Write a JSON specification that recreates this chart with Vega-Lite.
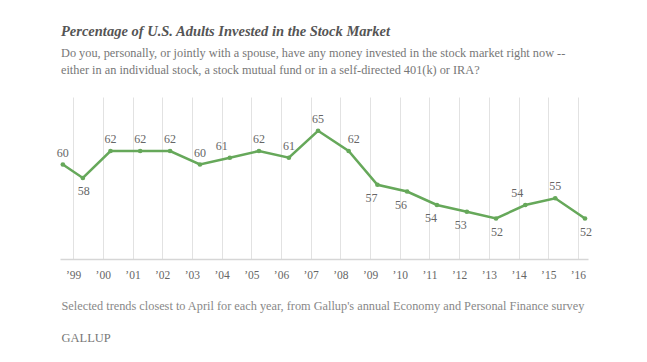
{
  "$schema": "https://vega.github.io/schema/vega-lite/v6.json",
  "width": 528,
  "height": 162,
  "autosize": {"type": "none"},
  "padding": {"left": 60, "top": 97, "right": 59, "bottom": 103},
  "background": "white",
  "view": {"stroke": null},
  "title": {
    "text": "Percentage of U.S. Adults Invested in the Stock Market",
    "subtitle": [
      "Do you, personally, or jointly with a spouse, have any money invested in the stock market right now --",
      "either in an individual stock, a stock mutual fund or in a self-directed 401(k) or IRA?"
    ],
    "anchor": "start",
    "frame": "group",
    "offset": 20,
    "dx": 1,
    "font": "Liberation Serif",
    "fontSize": 14.5,
    "fontStyle": "italic",
    "fontWeight": "bold",
    "color": "#555555",
    "subtitleFont": "Liberation Serif",
    "subtitleFontSize": 12.3,
    "subtitleColor": "#777777",
    "subtitleLineHeight": 17,
    "subtitlePadding": 7
  },
  "data": {
    "values": [
      {"date": "1998-08-28", "pct": 60},
      {"date": "1999-05-01", "pct": 58},
      {"date": "2000-04-05", "pct": 62},
      {"date": "2001-04-05", "pct": 62},
      {"date": "2002-04-08", "pct": 62},
      {"date": "2003-04-10", "pct": 60},
      {"date": "2004-04-12", "pct": 61},
      {"date": "2005-04-05", "pct": 62},
      {"date": "2006-04-08", "pct": 61},
      {"date": "2007-04-02", "pct": 65},
      {"date": "2008-04-12", "pct": 62},
      {"date": "2009-04-01", "pct": 57},
      {"date": "2010-04-01", "pct": 56},
      {"date": "2011-04-03", "pct": 54},
      {"date": "2012-04-05", "pct": 53},
      {"date": "2013-03-30", "pct": 52},
      {"date": "2014-03-25", "pct": 54},
      {"date": "2015-03-28", "pct": 55},
      {"date": "2016-03-28", "pct": 52}
    ]
  },
  "encoding": {
    "x": {
      "field": "date",
      "type": "temporal",
      "scale": {
        "type": "utc",
        "domain": [
          {"year": 1998, "month": 7, "date": 24, "utc": true},
          {"year": 2016, "month": 5, "date": 4, "utc": true}
        ]
      },
      "axis": {
        "tickCount": {"interval": "year", "step": 1},
        "labelExpr": "'\u2019' + utcFormat(datum.value, '%y')",
        "grid": true,
        "gridColor": "#e2e2e2",
        "gridWidth": 1,
        "ticks": false,
        "domainColor": "#d6d6d6",
        "domainWidth": 1.5,
        "labelFont": "Liberation Serif",
        "labelFontSize": 11.5,
        "labelColor": "#666666",
        "labelPadding": 10,
        "labelFlush": false,
        "labelOverlap": false,
        "title": "Selected trends closest to April for each year, from Gallup's annual Economy and Personal Finance survey",
        "titleFont": "Liberation Serif",
        "titleFontSize": 12.3,
        "titleFontWeight": "normal",
        "titleColor": "#888888",
        "titleAnchor": "start",
        "titleAlign": "left",
        "titleBaseline": "middle",
        "titleX": 1,
        "titleY": 46
      }
    },
    "y": {
      "field": "pct",
      "type": "quantitative",
      "scale": {"domain": [46, 70], "nice": false, "zero": false},
      "axis": {
        "labels": false,
        "ticks": false,
        "domain": false,
        "grid": false,
        "title": "GALLUP",
        "titleAngle": 0,
        "titleAlign": "left",
        "titleBaseline": "middle",
        "titleX": 1,
        "titleY": 240,
        "titleFont": "Liberation Serif",
        "titleFontSize": 12.5,
        "titleFontWeight": "normal",
        "titleColor": "#777777"
      }
    }
  },
  "layer": [
    {"mark": {"type": "line", "color": "#66a85a", "strokeWidth": 2.5}},
    {"mark": {"type": "point", "filled": true, "color": "#66a85a", "size": 22, "opacity": 1}},
    {
      "transform": [{"filter": "indexof([1998,2000,2001,2002,2003,2005,2006,2007,2015], utcyear(toDate(datum.date))) >= 0"}],
      "mark": {"type": "text", "dy": -12, "font": "Liberation Serif", "fontSize": 12, "color": "#666666"},
      "encoding": {"text": {"field": "pct", "type": "quantitative"}}
    },
    {
      "transform": [{"filter": "indexof([2004,2014], utcyear(toDate(datum.date))) >= 0"}],
      "mark": {"type": "text", "dy": -12, "dx": -8, "font": "Liberation Serif", "fontSize": 12, "color": "#666666"},
      "encoding": {"text": {"field": "pct", "type": "quantitative"}}
    },
    {
      "transform": [{"filter": "utcyear(toDate(datum.date)) == 2008"}],
      "mark": {"type": "text", "dy": -12, "dx": 5, "font": "Liberation Serif", "fontSize": 12, "color": "#666666"},
      "encoding": {"text": {"field": "pct", "type": "quantitative"}}
    },
    {
      "transform": [{"filter": "indexof([1999,2013,2016], utcyear(toDate(datum.date))) >= 0"}],
      "mark": {"type": "text", "dy": 13, "dx": 1, "font": "Liberation Serif", "fontSize": 12, "color": "#666666"},
      "encoding": {"text": {"field": "pct", "type": "quantitative"}}
    },
    {
      "transform": [{"filter": "indexof([2009,2010,2011,2012], utcyear(toDate(datum.date))) >= 0"}],
      "mark": {"type": "text", "dy": 13, "dx": -6, "font": "Liberation Serif", "fontSize": 12, "color": "#666666"},
      "encoding": {"text": {"field": "pct", "type": "quantitative"}}
    }
  ]
}
